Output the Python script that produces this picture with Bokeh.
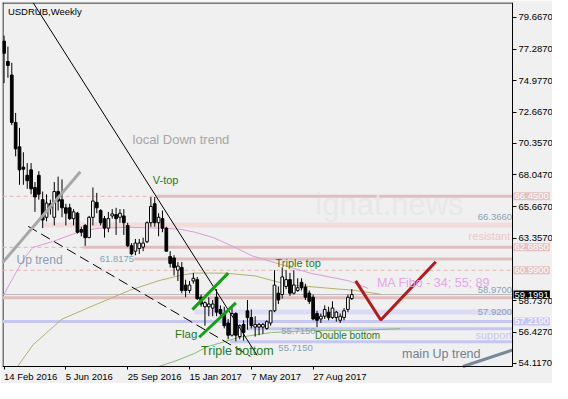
from bokeh.plotting import figure
from bokeh.models import Range1d, FixedTicker, PrintfTickFormatter, Label
from bokeh.embed import file_html
from bokeh.resources import INLINE

FONT = "Liberation Sans"

# ---- weekly candles (index 0 = week of 14 Feb 2016) ----
OPEN = [77.9, 76.4, 75.4, 71.9, 70.1, 68.6, 68.0, 68.4, 67.1, 68.0,
        66.2, 64.9, 65.9, 64.9, 66.8, 66.2, 65.6, 65.6, 64.8, 65.2,
        64.0, 64.3, 63.4, 64.9, 66.0, 65.4, 64.8, 64.1, 65.0, 65.1,
        64.9, 65.0, 64.3, 62.8, 62.4, 62.6, 62.7, 63.1, 64.5, 65.9,
        64.5, 64.8, 64.1, 62.0, 61.9, 61.0, 61.2, 59.9, 59.5, 60.2,
        60.3, 59.0, 58.3, 58.3, 58.2, 59.0, 58.1, 57.8, 57.1, 56.2,
        57.8, 56.1, 57.0, 58.0, 57.5, 56.8, 56.8, 56.8, 56.7, 57.1,
        58.0, 59.3, 59.2, 59.8, 60.3, 59.3, 59.5, 60.1, 59.75, 59.3,
        59.0, 57.8, 57.4, 57.6, 57.9, 57.5, 57.5, 57.3, 57.5, 58.1,
        58.9]
HIGH = [78.3, 77.5, 76.3, 72.6, 71.5, 69.7, 68.9, 68.9, 67.5, 68.3,
        66.8, 66.6, 66.2, 67.5, 67.9, 67.7, 65.9, 65.9, 65.5, 65.3,
        64.2, 64.4, 65.0, 67.1, 66.7, 65.5, 65.0, 65.3, 65.5, 65.6,
        65.5, 65.5, 64.5, 63.0, 63.3, 63.3, 63.4, 64.6, 66.4, 66.4,
        65.2, 65.4, 64.2, 62.4, 62.1, 61.6, 61.6, 60.3, 60.2, 60.8,
        60.5, 59.2, 58.7, 59.0, 58.8, 59.6, 58.4, 58.3, 57.4, 58.2,
        57.9, 57.0, 57.3, 58.8, 58.1, 57.6, 57.1, 57.1, 57.3, 58.0,
        61.0, 59.8, 61.2, 61.0, 60.8, 61.0, 60.4, 60.4, 60.0, 59.5,
        59.2, 58.0, 57.8, 58.4, 58.3, 58.7, 58.0, 57.8, 58.2, 59.2,
        59.6]
LOW = [74.8, 75.2, 71.7, 69.4, 67.3, 67.3, 67.0, 66.6, 65.3, 66.2,
       64.1, 64.6, 65.1, 64.3, 65.4, 64.9, 64.3, 64.7, 64.3, 63.7,
       63.5, 62.8, 63.4, 64.3, 65.2, 64.3, 63.4, 63.8, 64.8, 63.6,
       64.5, 63.6, 62.7, 62.1, 62.1, 62.2, 62.4, 63.0, 64.2, 64.2,
       63.5, 63.8, 62.4, 61.2, 60.6, 60.2, 59.3, 59.0, 59.3, 60.0,
       58.8, 58.3, 56.9, 57.6, 57.6, 57.6, 57.4, 56.7, 55.9, 56.1,
       55.75, 55.9, 55.8, 56.6, 56.7, 56.1, 56.2, 56.3, 56.6, 56.9,
       57.9, 58.5, 58.9, 59.6, 59.1, 59.2, 59.4, 59.5, 58.8, 58.5,
       57.3, 56.8, 57.1, 57.4, 57.3, 57.4, 57.2, 57.1, 57.3, 57.9,
       58.8]
CLOSE = [77.0, 76.1, 71.9, 69.95, 68.4, 68.45, 67.6, 67.0, 66.4, 66.6,
         64.7, 65.95, 65.6, 66.8, 66.1, 65.6, 65.2, 64.8, 65.3, 63.8,
         63.8, 63.4, 64.9, 66.1, 65.6, 64.5, 64.1, 64.8, 65.15, 64.8,
         65.2, 64.5, 62.8, 62.2, 63.0, 63.0, 63.0, 64.5, 65.7, 64.5,
         64.9, 64.1, 62.4, 61.5, 61.2, 61.3, 59.5, 59.5, 59.9, 60.4,
         58.9, 58.5, 58.6, 58.5, 58.5, 57.9, 57.8, 56.9, 56.2, 57.8,
         56.2, 56.9, 56.4, 57.5, 56.9, 57.0, 57.0, 57.0, 57.2, 58.0,
         59.9, 58.8, 60.5, 60.3, 59.3, 59.9, 59.7, 59.7, 59.0, 58.7,
         57.4, 57.3, 57.6, 58.1, 57.5, 58.2, 57.9, 57.6, 58.0, 59.0,
         59.1991]

# ---- moving averages (week index, price) ----
MA_PINK_X = [0, 3, 5.5, 7.5, 12.5, 19.25, 24.25, 31.75, 41.75, 45.5, 49.25, 54.25, 59.25, 64.25, 69.25, 79.25, 89.25, 94.25]
MA_PINK_Y = [59.22, 60.78, 61.98, 62.68, 63.10, 63.81, 64.09, 64.16, 64.09, 64.02, 63.81, 63.39, 62.75, 62.05, 61.62, 60.78, 60.21, 59.65]
MA_OLIVE_X = [3.5, 7.5, 15, 24.25, 32.5, 40, 46, 49.25, 57.5, 65, 73.5, 81.75, 91, 97.5]
MA_OLIVE_Y = [53.89, 55.49, 57.39, 58.52, 59.51, 60.22, 60.64, 60.78, 60.78, 60.57, 59.93, 59.72, 59.50, 59.22]
MA_GREEN_X = [40, 44.25, 49.25, 52.5, 61, 69.25, 80, 91, 102.5]
MA_GREEN_Y = [53.89, 54.28, 54.85, 55.34, 56.05, 56.40, 56.54, 56.54, 56.68]

# ---- levels ----
RES_SOLID = [66.45, 62.685, 61.8175, 58.97]
RES_SOLID_FROM = [39.25, 20.5, 33.75, -0.4]
RES_DASHED = [66.45, 62.685, 60.99]
RES_BAND = 64.34
RES_BAND_FROM = 10
SUP_LINES = [57.219, 56.68, 55.715]
SUP_LINES_FROM = [-0.4, 63, 58.5]
SUP_BAND = 57.92
SUP_BAND_FROM = 49.25
BID = 59.1991
AXIS_BOXES = [66.45, 62.685, 60.99, BID, 57.219]

# ---- drawn trend lines (week index, price) ----
DOWN_X = [7.5, 65.5]
DOWN_Y = [80.75, 54.71]
DASH_X = [6.25, 63.75]
DASH_Y = [64.23, 54.64]
UPTR_X = [-0.4, 19.75]
UPTR_Y = [61.55, 68.26]
MAINUP_X = [118.75, 131.6]
MAINUP_Y = [53.89, 55.11]
FLAG_UP_X = [48.75, 58.0]
FLAG_UP_Y = [58.09, 60.78]
FLAG_LO_X = [50.5, 60.0]
FLAG_LO_Y = [56.05, 58.59]
FORECAST_X = [91, 97.5, 111.75]
FORECAST_Y = [60.21, 57.32, 61.62]

PRICE_TICKS = [54.117, 56.427, 58.737, 63.357, 65.667, 68.047, 70.357, 72.667, 74.977, 77.287, 79.667]
DATE_TICKS = [0, 16, 32, 48, 64, 80]
DATE_LABELS = ["14 Feb 2016", "5 Jun 2016", "25 Sep 2016", "15 Jan 2017", "7 May 2017", "27 Aug 2017"]

X0 = -0.4          # left edge of the chart
XE = 131.6         # right edge of the chart = price-axis position
XR = 141.95        # frame continues under the price labels
Y0, Y1 = 53.89, 80.75   # bottom / top of the chart
YB = 52.636        # frame continues under the date labels
p = figure(width=552, height=383, x_range=Range1d(X0, XR), y_range=Range1d(YB, Y1),
           output_backend="svg", toolbar_location=None, y_axis_location="right",
           min_border_left=2, min_border_top=2, min_border_right=0, min_border_bottom=0)
p.grid.visible = False
p.background_fill_color = "#f0f0f0"
p.border_fill_color = "#f0f0f0"
p.outline_line_color = None

ya = p.yaxis[0]
ya.fixed_location = XE
ya.bounds = (Y0, Y1)
ya.ticker = FixedTicker(ticks=PRICE_TICKS)
ya.formatter = PrintfTickFormatter(format="%.4f")
ya.major_tick_out = 4
ya.major_tick_in = 0
ya.minor_tick_out = 0
ya.minor_tick_in = 0
ya.major_label_standoff = 2
ya.major_label_text_font = FONT
ya.major_label_text_font_size = "9.5px"
ya.major_label_text_color = "black"
ya.axis_line_color = "black"

# date axis: a near-zero negative orientation makes the labels start at their tick
xa = p.xaxis[0]
xa.fixed_location = Y0
xa.bounds = (X0, XE)
xa.ticker = FixedTicker(ticks=DATE_TICKS)
xa.major_label_overrides = {t: l for t, l in zip(DATE_TICKS, DATE_LABELS)}
xa.major_label_orientation = -0.0001
xa.major_label_standoff = 7
xa.major_tick_out = 3
xa.major_tick_in = 0
xa.minor_tick_out = 0
xa.minor_tick_in = 0
xa.major_label_text_font = FONT
xa.major_label_text_font_size = "9.5px"
xa.major_label_text_color = "black"
xa.axis_line_color = "black"

# chart border (left, top) up to the price axis
DX, DY = 0.13, 0.037
p.segment(x0=[X0 + DX, X0], y0=[Y0, Y1 - DY], x1=[X0 + DX, XE], y1=[Y1, Y1 - DY],
          line_color="black", line_width=1)

PINK_SOLID = "#e0bebe"
PINK_DASH = "#e6b4b4"
PINK_BAND = "#f2dcdc"
LAV = "#c6c6f2"
LAV_BAND = "#dcdcf7"

# levels
p.segment(x0=[RES_BAND_FROM], y0=[RES_BAND], x1=[XE], y1=[RES_BAND], line_color=PINK_BAND, line_width=5)
p.segment(x0=[SUP_BAND_FROM], y0=[SUP_BAND], x1=[XE], y1=[SUP_BAND], line_color=LAV_BAND, line_width=5)
p.segment(x0=[X0] * len(RES_DASHED), y0=RES_DASHED, x1=[XE] * len(RES_DASHED), y1=RES_DASHED,
          line_color=PINK_DASH, line_width=1, line_dash="4 3")
p.segment(x0=RES_SOLID_FROM, y0=RES_SOLID, x1=[XE] * len(RES_SOLID), y1=RES_SOLID,
          line_color=PINK_SOLID, line_width=3)
p.segment(x0=SUP_LINES_FROM, y0=SUP_LINES, x1=[XE] * len(SUP_LINES), y1=SUP_LINES,
          line_color=LAV, line_width=3)
p.segment(x0=[X0], y0=[BID], x1=[XE], y1=[BID], line_color="#b8b8b8", line_width=1)

# moving averages
p.line(MA_PINK_X, MA_PINK_Y, line_color="#dd99dd", line_width=1)
p.line(MA_OLIVE_X, MA_OLIVE_Y, line_color="#b5b06a", line_width=1)
p.line(MA_GREEN_X, MA_GREEN_Y, line_color="#88bb77", line_width=1)

# candles
IDX = list(range(len(OPEN)))
p.segment(x0=IDX, y0=LOW, x1=IDX, y1=HIGH, line_color="black", line_width=1)
up = [i for i in IDX if CLOSE[i] >= OPEN[i]]
dn = [i for i in IDX if CLOSE[i] < OPEN[i]]
p.vbar(x=up, width=0.7, bottom=[OPEN[i] for i in up], top=[CLOSE[i] for i in up],
       fill_color="white", line_color="black", line_width=1)
p.vbar(x=dn, width=0.7, bottom=[CLOSE[i] for i in dn], top=[OPEN[i] for i in dn],
       fill_color="black", line_color="black", line_width=1)

# trend lines
p.line(DOWN_X, DOWN_Y, line_color="black", line_width=1)
p.line(DASH_X, DASH_Y, line_color="black", line_width=1, line_dash="10 5")
p.line(UPTR_X, UPTR_Y, line_color="#a8a8a8", line_width=3)
p.line(MAINUP_X, MAINUP_Y, line_color="#778899", line_width=3)
p.line(FLAG_UP_X, FLAG_UP_Y, line_color="#13a013", line_width=3)
p.line(FLAG_LO_X, FLAG_LO_Y, line_color="#13a013", line_width=3)
p.line(FORECAST_X, FORECAST_Y, line_color="#b5191d", line_width=3)


def txt(x, y, s, color, size, align="left", font=FONT):
    p.add_layout(Label(x=x, y=y, text=s, text_color=color, text_font=font, text_font_size=size,
                       text_align=align, text_baseline="middle"))


GREEN_T = "#1f7a1f"
NUM_T = "#8aa0b8"
txt(99.75, 65.86, "ignat.news", "#e8e8e8", "31px", "center")
txt(1.0, 80.11, "USDRUB,Weekly", "black", "9.5px")
txt(33.25, 70.65, "local Down trend", "#a6a6a6", "13px")
txt(38.5, 67.62, "V-top", GREEN_T, "11px")
txt(3.25, 61.77, "Up trend", "#8c9cb4", "12px")
txt(24.75, 61.84, "61.8175", NUM_T, "9.5px")
txt(131.5, 64.94, "66.3660", NUM_T, "9.5px", "right")
txt(131.0, 63.53, "resistant", "#efc6c6", "11px", "right")
txt(70.25, 61.55, "Triple top", GREEN_T, "11px")
txt(96.5, 60.07, "MA Fibo - 34; 55; 89", "#e4a6e4", "12.5px")
txt(131.5, 59.57, "58.9700", NUM_T, "9.5px", "right")
txt(131.5, 57.88, "57.9200", NUM_T, "9.5px", "right")
txt(44.25, 56.26, "Flag", GREEN_T, "11.5px")
txt(71.75, 56.54, "55.7150", NUM_T, "9.5px")
txt(80.5, 56.19, "Double bottom", GREEN_T, "10px")
txt(131.5, 56.19, "support", "#c8c8f0", "11px", "right")
txt(51.0, 55.06, "Triple bottom", GREEN_T, "12.5px")
txt(71.0, 55.27, "55.7150", NUM_T, "9.5px")
txt(103.0, 54.78, "main Up trend", "#6f7f8f", "12.5px")

# price boxes on the axis
BOX_BG = ["#e2c2c2", "#e2c2c2", "#e2c2c2", "black", "#c6c6f2"]
for lv, bg in zip(AXIS_BOXES, BOX_BG):
    p.add_layout(Label(x=XE, y=lv, x_offset=1, text=f"{lv:.4f}", text_color="white",
                       text_font=FONT, text_font_size="9.5px", text_align="left", text_baseline="middle",
                       background_fill_color=bg, padding=1))

open("out.html", "w").write(file_html(p, INLINE))
